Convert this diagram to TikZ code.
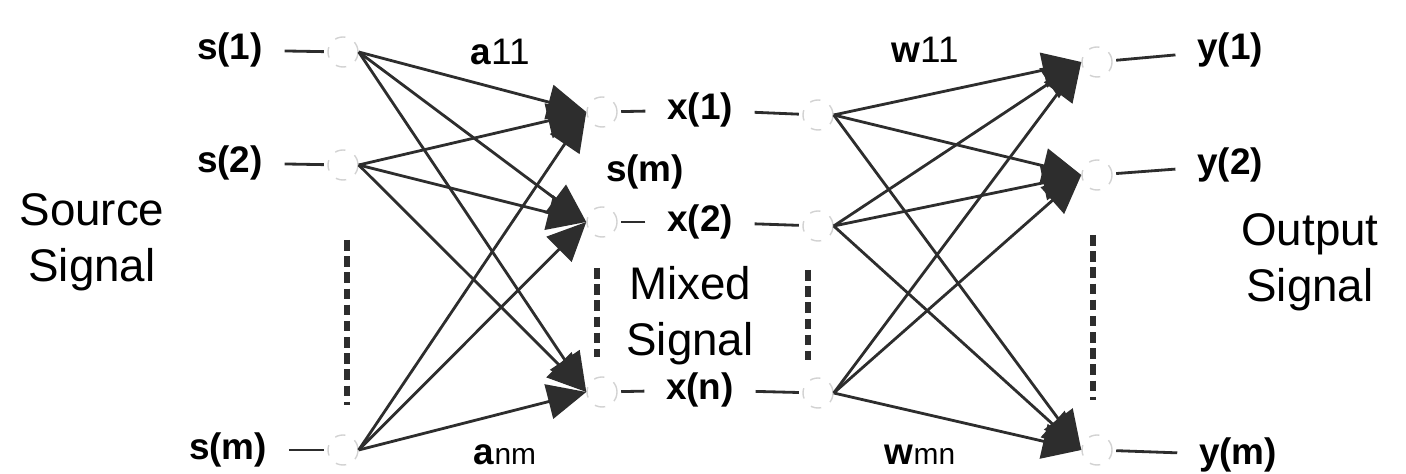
\documentclass[tikz,border=0pt]{standalone}
\usepackage{fontspec}
\setmainfont{Liberation Sans}
\usetikzlibrary{arrows.meta, positioning}
\definecolor{netdark}{RGB}{45, 45, 45}
\definecolor{netfaint}{RGB}{210, 210, 210}

\begin{document}
\begin{tikzpicture}[
  x=0.01cm, y=-0.01cm,
  unit/.style={circle, draw=netfaint, dashed, minimum size=0.3cm, inner sep=0pt},
  sig/.style={font=\fontsize{10.5}{12}\selectfont\bfseries, inner sep=1pt},
  title/.style={font=\fontsize{13}{16}\selectfont, align=center},
  weight/.style={font=\fontsize{10.5}{12}\selectfont},
  arrow/.style={-{Triangle[length=11pt, width=10pt]}, line width=0.8pt, color=netdark},
  tick/.style={line width=0.8pt, color=netdark, shorten <=5pt, shorten >=1pt},
  vdots/.style={line width=1.5pt, color=netdark, dash pattern=on 3pt off 1.6pt},
]
  \useasboundingbox (0,0) rectangle (1406,474);

  % Source units
  \node[unit] (s1) at (343,52) {};
  \node[unit] (s2) at (343,165) {};
  \node[unit] (sm) at (343,450) {};
  \node[sig] (s1lab) at (230,50) {s(1)};
  \node[sig] (s2lab) at (230,163) {s(2)};
  \node[sig] (smlab) at (228,450) {s(m)};
  \node[title] (src) at (92,242) {Source\\Signal};

  % Mixed units
  \node[unit] (xl1) at (602,112) {};
  \node[unit] (xl2) at (602,222) {};
  \node[unit] (xln) at (602,392) {};
  \node[unit] (xr1) at (818,115) {};
  \node[unit] (xr2) at (818,226) {};
  \node[unit] (xrn) at (818,393) {};
  \node[sig] (x1lab) at (700,110) {x(1)};
  \node[sig] (x2lab) at (700,222) {x(2)};
  \node[sig] (xnlab) at (700,390) {x(n)};
  \node[sig] (smid) at (645,172) {s(m)};
  \node[title] (mix) at (690,316) {Mixed\\Signal};

  % Output units
  \node[unit] (y1) at (1097,62) {};
  \node[unit] (y2) at (1097,175) {};
  \node[unit] (ym) at (1097,450) {};
  \node[sig] (y1lab) at (1230,50) {y(1)};
  \node[sig] (y2lab) at (1230,165) {y(2)};
  \node[sig] (ymlab) at (1238,455) {y(m)};
  \node[title] (out) at (1310,262) {Output\\Signal};

  % Weights
  \node[weight] (a11) at (500,52) {\textbf{a}11};
  \node[weight] (anm) at (505,455) {\textbf{a}{\fontsize{8.5}{10}\selectfont nm}};
  \node[weight] (w11) at (925,50) {\textbf{w}11};
  \node[weight] (wmn) at (920,455) {\textbf{w}{\fontsize{8.5}{10}\selectfont mn}};

  % Dotted gaps
  \coordinate (d1a) at (347,240);
  \coordinate (d1b) at (347,405);
  \coordinate (d2a) at (597,268);
  \coordinate (d2b) at (597,357);
  \coordinate (d3a) at (808,270);
  \coordinate (d3b) at (808,360);
  \coordinate (d4a) at (1093,235);
  \coordinate (d4b) at (1093,400);
  \draw[vdots] (d1a) -- (d1b);
  \draw[vdots] (d2a) -- (d2b);
  \draw[vdots] (d3a) -- (d3b);
  \draw[vdots] (d4a) -- (d4b);

  % Ticks
  \draw[tick] (s1lab) -- (s1);
  \draw[tick] (s2lab) -- (s2);
  \draw[tick] (smlab) -- (sm);
  \draw[tick] (x1lab) -- (xl1);
  \draw[tick] (x2lab) -- (xl2);
  \draw[tick] (xnlab) -- (xln);
  \draw[tick] (x1lab) -- (xr1);
  \draw[tick] (x2lab) -- (xr2);
  \draw[tick] (xnlab) -- (xrn);
  \draw[tick] (y1lab) -- (y1);
  \draw[tick] (y2lab) -- (y2);
  \draw[tick] (ymlab) -- (ym);

  % Mixing arrows
  \draw[arrow] (s1.east) -- (xl1.west);
  \draw[arrow] (s1.east) -- (xl2.west);
  \draw[arrow] (s1.east) -- (xln.west);
  \draw[arrow] (s2.east) -- (xl1.west);
  \draw[arrow] (s2.east) -- (xl2.west);
  \draw[arrow] (s2.east) -- (xln.west);
  \draw[arrow] (sm.east) -- (xl1.west);
  \draw[arrow] (sm.east) -- (xl2.west);
  \draw[arrow] (sm.east) -- (xln.west);

  % Separating arrows
  \draw[arrow] (xr1.east) -- (y1.west);
  \draw[arrow] (xr1.east) -- (y2.west);
  \draw[arrow] (xr1.east) -- (ym.west);
  \draw[arrow] (xr2.east) -- (y1.west);
  \draw[arrow] (xr2.east) -- (y2.west);
  \draw[arrow] (xr2.east) -- (ym.west);
  \draw[arrow] (xrn.east) -- (y1.west);
  \draw[arrow] (xrn.east) -- (y2.west);
  \draw[arrow] (xrn.east) -- (ym.west);
\end{tikzpicture}
\end{document}
